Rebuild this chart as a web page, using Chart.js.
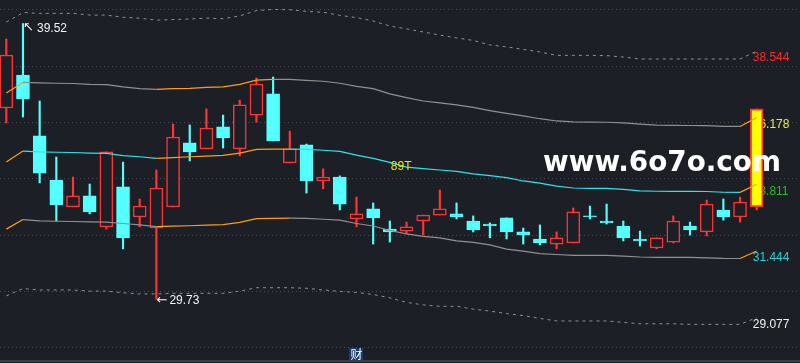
<!DOCTYPE html>
<html>
<head>
<meta charset="utf-8">
<script src="https://cdn.jsdelivr.net/npm/chart.js@4.4.1/dist/chart.umd.min.js"></script>
<style>
  html, body { margin: 0; padding: 0; background: #1c1f26; }
</style>
</head>
<body>
<canvas id="kline" width="800" height="363"></canvas>
<script>
// daily candles, oldest first
const opens  = [36.52, 37.69, 35.53, 33.96, 33.01, 33.40, 32.30, 33.72, 32.65, 32.26,
                33.01, 35.28, 35.07, 35.85, 35.07, 36.27, 37.02, 34.57, 35.21, 33.93,
                34.07, 32.58, 32.94, 32.22, 32.15, 32.51, 32.72, 32.76, 32.51, 32.40,
                32.62, 32.12, 31.87, 31.69, 31.73, 32.69, 32.51, 32.33, 31.87, 31.55,
                31.76, 32.33, 32.12, 32.90, 32.65, 33.01];
const highs  = [38.97, 39.52, 36.77, 34.78, 34.07, 33.82, 34.96, 34.60, 33.29, 34.32,
                35.95, 35.92, 36.49, 36.27, 36.80, 37.59, 37.62, 35.70, 35.24, 34.36,
                34.11, 33.36, 33.15, 32.51, 32.47, 32.72, 33.61, 33.15, 32.69, 32.44,
                32.62, 32.26, 32.37, 32.12, 32.97, 33.04, 33.11, 32.51, 32.15, 31.91,
                32.69, 32.47, 33.25, 33.29, 33.36, 36.49];
const lows   = [35.99, 36.20, 33.86, 32.51, 33.01, 32.76, 32.22, 31.52, 32.30, 29.73,
                33.01, 34.64, 35.07, 35.10, 34.82, 36.02, 35.35, 34.57, 33.50, 33.65,
                32.90, 32.30, 31.69, 31.76, 32.05, 32.01, 32.72, 32.58, 32.12, 31.91,
                31.87, 31.69, 31.66, 31.52, 31.73, 32.58, 32.40, 31.80, 31.62, 31.52,
                31.73, 32.01, 31.98, 32.54, 32.47, 32.90];
const closes = [38.40, 36.84, 34.21, 33.08, 33.40, 32.83, 34.96, 31.91, 33.04, 33.68,
                35.49, 34.96, 35.81, 35.46, 36.63, 37.37, 35.35, 35.07, 33.93, 34.07,
                33.11, 32.76, 32.62, 32.12, 32.30, 32.72, 32.94, 32.65, 32.19, 32.33,
                32.12, 32.01, 31.73, 31.91, 32.83, 32.65, 32.44, 31.91, 31.80, 31.91,
                32.51, 32.19, 33.11, 32.65, 33.18, 36.49];

// band lines
const midBand  = [34.60, 34.99, 34.96, 34.95, 34.94, 34.92, 34.91, 34.83, 34.79, 34.73,
                  34.76, 34.79, 34.81, 34.84, 34.92, 35.054, 35.058, 35.062, 35.051, 35.02,
                  34.98, 34.85, 34.73, 34.59, 34.42, 34.37, 34.32, 34.27, 34.18, 34.12,
                  34.05, 33.93, 33.85, 33.75, 33.68, 33.67, 33.665, 33.63, 33.58, 33.565,
                  33.562, 33.559, 33.556, 33.53, 33.526, 33.811];
const upBand   = [37.05, 37.43, 37.41, 37.40, 37.39, 37.36, 37.35, 37.27, 37.21, 37.18,
                  37.21, 37.22, 37.25, 37.27, 37.36, 37.51, 37.54, 37.535, 37.50, 37.47,
                  37.40, 37.29, 37.21, 37.02, 36.89, 36.77, 36.70, 36.63, 36.54, 36.43,
                  36.33, 36.24, 36.14, 36.06, 36.025, 36.02, 36.015, 35.99, 35.95, 35.91,
                  35.905, 35.90, 35.895, 35.87, 35.865, 36.178];
const lowBand  = [32.22, 32.56, 32.51, 32.50, 32.49, 32.48, 32.47, 32.42, 32.37, 32.31,
                  32.33, 32.34, 32.36, 32.38, 32.46, 32.59, 32.60, 32.61, 32.60, 32.57,
                  32.54, 32.42, 32.33, 32.17, 32.05, 31.96, 31.91, 31.80, 31.75, 31.66,
                  31.51, 31.44, 31.35, 31.32, 31.291, 31.288, 31.285, 31.26, 31.23, 31.22,
                  31.218, 31.215, 31.20, 31.18, 31.178, 31.444];
const upOuter  = [39.57, 39.91, 39.88, 39.88, 39.88, 39.82, 39.82, 39.74, 39.71, 39.64,
                  39.66, 39.68, 39.71, 39.69, 39.79, 39.98, 40.02, 40.01, 39.95, 39.92,
                  39.81, 39.73, 39.61, 39.43, 39.33, 39.22, 39.11, 39.01, 38.92, 38.76,
                  38.69, 38.60, 38.51, 38.39, 38.39, 38.39, 38.38, 38.33, 38.26, 38.26,
                  38.26, 38.26, 38.26, 38.26, 38.26, 38.544];
const lowOuter = [29.85, 30.11, 30.06, 30.06, 30.06, 30.02, 30.02, 29.96, 29.92, 29.92,
                  29.94, 29.94, 29.94, 29.94, 30.02, 30.14, 30.14, 30.14, 30.12, 30.06,
                  30.01, 29.97, 29.90, 29.78, 29.62, 29.53, 29.48, 29.48, 29.38, 29.31,
                  29.22, 29.15, 29.05, 28.96, 28.96, 28.96, 28.96, 28.91, 28.86, 28.86,
                  28.86, 28.84, 28.84, 28.84, 28.84, 29.077];

const gridLevels = [28, 30, 32, 34, 36, 38, 40];
const reportDay = 21;      // 财 marker
const tagIndex = 23;       // "89T" tag on the middle line
const tagText = "89T";
const watermark = "www.6o7o.com";

const bg = "#1c1f26";
const red = "#ff3434";
const cyan = "#55ffff";
const orange = "#ff9c1a";
const gray = "#909090";
const midCyan = "#2fe3e8";

const last = closes.length - 1;
const idx = closes.map((_, i) => i);
const isUp = idx.map(i => closes[i] >= opens[i]);
const pts = arr => arr.map((y, i) => ({ x: i, y }));

// orange while the line is climbing
const climbColor = other => ({
  borderColor: c => (c.p1.parsed.y > c.p0.parsed.y ? orange : other)
});

let hiIdx = 0, loIdx = 0;
highs.forEach((h, i) => { if (h > highs[hiIdx]) hiIdx = i; });
lows.forEach((l, i) => { if (l < lows[loIdx]) loIdx = i; });

const textPlugin = {
  id: "texts",
  beforeDatasetsDraw(chart) {
    const ctx = chart.ctx, xs = chart.scales.x, ys = chart.scales.y;
    const vals = [upOuter[last], upBand[last], midBand[last], lowBand[last], lowOuter[last]];
    const cols = ["#ff2a2a", "#e8e850", "#22c022", "#27d3d8", "#f0f0f0"];
    ctx.save();
    ctx.font = '12px "Liberation Sans", Arial, sans-serif';
    ctx.textBaseline = "middle";
    ctx.textAlign = "left";
    vals.forEach((v, k) => {
      ctx.fillStyle = cols[k];
      ctx.fillText(v.toFixed(3), xs.getPixelForValue(last) - 4, ys.getPixelForValue(v) + 7);
    });
    ctx.restore();
  },
  afterDatasetsDraw(chart) {
    const ctx = chart.ctx, xs = chart.scales.x, ys = chart.scales.y;
    ctx.save();
    ctx.font = '12px "Liberation Sans", "DejaVu Sans", sans-serif';
    ctx.textBaseline = "middle";
    ctx.textAlign = "left";
    ctx.fillStyle = "#f2f2f2";

    // highest high
    const hx = xs.getPixelForValue(hiIdx), hy = ys.getPixelForValue(highs[hiIdx]);
    ctx.font = '13px "DejaVu Sans", sans-serif';
    ctx.fillText("\u2196", hx, hy + 4);
    ctx.font = '12px "Liberation Sans", "DejaVu Sans", sans-serif';
    ctx.fillText(highs[hiIdx].toFixed(2), hx + 14, hy + 5);

    // lowest low
    const lx = xs.getPixelForValue(loIdx), ly = ys.getPixelForValue(lows[loIdx]);
    ctx.font = '13px "DejaVu Sans", sans-serif';
    ctx.fillText("\u2190", lx, ly + 1);
    ctx.font = '12px "Liberation Sans", "DejaVu Sans", sans-serif';
    ctx.fillText(lows[loIdx].toFixed(2), lx + 13, ly + 1);

    // tag on middle band
    ctx.fillStyle = "#e6e61a";
    ctx.fillText(tagText, xs.getPixelForValue(tagIndex) + 1, ys.getPixelForValue(midBand[tagIndex]) + 4);

    // report marker
    const rx = xs.getPixelForValue(reportDay);
    const by = chart.chartArea.bottom;
    ctx.fillStyle = "#193b6c";
    ctx.fillRect(Math.round(rx - 7), by - 13, 14, 12);
    ctx.fillStyle = "#ffffff";
    ctx.font = '12px "Noto Sans CJK SC", sans-serif';
    ctx.textAlign = "center";
    ctx.fillText("财", rx, by - 7);
    ctx.restore();
  },
  afterDraw(chart) {
    const ctx = chart.ctx;
    ctx.save();
    ctx.font = 'bold 30px "DejaVu Sans", sans-serif';
    const size = 30 * 238 / ctx.measureText(watermark).width;
    ctx.font = `bold ${size}px "DejaVu Sans", sans-serif`;
    ctx.fillStyle = "#ffffff";
    ctx.textBaseline = "alphabetic";
    ctx.textAlign = "left";
    ctx.fillText(watermark, 543, 171);
    ctx.restore();
  }
};

new Chart(document.getElementById("kline"), {
  type: "bar",
  data: {
    datasets: [
      { type: "line", data: pts(upOuter), borderColor: gray, borderWidth: 1, borderDash: [3, 4],
        pointRadius: 0, order: -1 },
      { type: "line", data: pts(lowOuter), borderColor: gray, borderWidth: 1, borderDash: [3, 4],
        pointRadius: 0, order: -1 },
      { type: "line", data: pts(upBand), borderColor: gray, borderWidth: 1.2, pointRadius: 0,
        segment: climbColor(gray), order: -1 },
      { type: "line", data: pts(lowBand), borderColor: gray, borderWidth: 1.2, pointRadius: 0,
        segment: climbColor(gray), order: -1 },
      { type: "line", data: pts(midBand), borderColor: midCyan, borderWidth: 1.2, pointRadius: 0,
        segment: climbColor(midCyan), order: -1 },
      {
        data: idx.map(i => ({ x: i, y: [opens[i], closes[i]] })),
        backgroundColor: idx.map(i => (i === last ? "#ffff00" : isUp[i] ? bg : cyan)),
        borderColor: idx.map(i => (isUp[i] ? red : cyan)),
        borderWidth: idx.map(i => (i === last ? 2 : 1.5)),
        borderSkipped: false,
        barThickness: 13,
        grouped: false,
        order: 0
      },
      {
        data: idx.map(i => ({ x: i, y: [lows[i], highs[i]] })),
        backgroundColor: idx.map(i => (isUp[i] ? red : cyan)),
        borderWidth: 0,
        barThickness: 1.5,
        grouped: false,
        order: 1
      }
    ]
  },
  options: {
    responsive: false,
    animation: false,
    devicePixelRatio: 1,
    layout: { padding: 0 },
    plugins: { legend: { display: false }, tooltip: { enabled: false } },
    scales: {
      x: {
        type: "linear",
        offset: false,
        min: -0.378,
        max: 47.596,
        grid: { display: false, drawTicks: false },
        ticks: { display: false },
        border: { display: true, color: "#3a3e48", width: 2 },
        afterFit: s => { s.height = 2; }
      },
      y: {
        min: 27.538,
        max: 40.355,
        grid: { color: "#474c57", drawTicks: false },
        border: { display: false, dash: [1, 3] },
        ticks: { display: false },
        afterBuildTicks: s => { s.ticks = gridLevels.map(v => ({ value: v })); },
        afterFit: s => { s.width = 0; }
      }
    }
  },
  plugins: [textPlugin]
});
</script>
</body>
</html>
